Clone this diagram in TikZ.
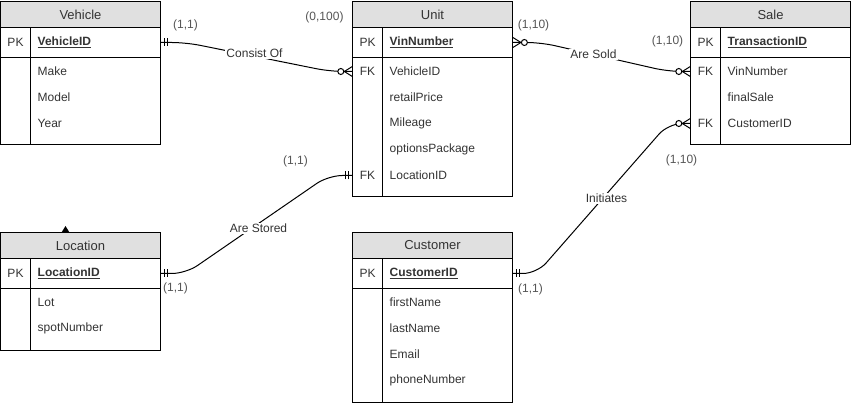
\documentclass[tikz,border=0pt]{standalone}
\usepackage{fontspec}
\setmainfont{Liberation Sans}
\usetikzlibrary{positioning}
\definecolor{hdrgray}{HTML}{E0E0E0}
\definecolor{txtgray}{HTML}{333333}
\definecolor{cardgray}{HTML}{555555}

\begin{document}
\begin{tikzpicture}[x=1pt, y=-1pt,
    box/.style={draw, line width=1pt},
    hdr/.style={draw, line width=1pt, fill=hdrgray, minimum width=160pt, minimum height=26pt, inner sep=0pt, text=txtgray, font=\fontsize{13}{15}\selectfont},
    tag/.style={minimum width=30pt, minimum height=26pt, inner sep=0pt, text=txtgray, font=\fontsize{12}{14}\selectfont},
    field/.style={anchor=west, text width=116pt, inner xsep=7pt, inner ysep=0pt, minimum height=26pt, text=txtgray, font=\fontsize{12}{14}\selectfont},
    card/.style={inner sep=1pt, text=cardgray, font=\fontsize{12}{14}\selectfont},
    rel/.style={line width=1pt, rounded corners=14pt},
    rellabel/.style={fill=white, inner sep=1pt, text=txtgray, font=\fontsize{12}{14}\selectfont},
    pics/mandone/.style={code={\draw[line width=1pt] (4,-4) -- (4,4) (7,-4) -- (7,4);}},
    pics/zeromany/.style={code={\draw[line width=1pt] (0,-5) -- (8,0) -- (0,5); \draw[line width=1pt, fill=white] (11.5,0) circle (3pt);}}
]
    \useasboundingbox (-0.5,-0.5) rectangle (850.5,402.5);

    % Vehicle
    \node[hdr] (veh) at (80,14) {Vehicle};
    \draw[box] (0,27) rectangle (160,144);
    \draw[box] (0,57) -- (160,57) (30,27) -- (30,144);
    \node[tag] (vehPK) at (15,42) {PK};
    \node[field] (vehID) at (30,42) {\underline{\textbf{VehicleID}}};
    \node[field] (vehMake) at (30,71) {Make};
    \node[field] (vehModel) at (30,97) {Model};
    \node[field] (vehYear) at (30,123) {Year};

    % Unit
    \node[hdr] (unit) at (432,14) {Unit};
    \draw[box] (352,27) rectangle (512,196);
    \draw[box] (352,57) -- (512,57) (382,27) -- (382,196);
    \node[tag] (unitPK) at (367,42) {PK};
    \node[field] (unitID) at (382,42) {\underline{\textbf{VinNumber}}};
    \node[tag] (unitFKveh) at (367,71) {FK};
    \node[field] (unitVeh) at (382,71) {VehicleID};
    \node[field] (unitPrice) at (382,97) {retailPrice};
    \node[field] (unitMiles) at (382,123) {Mileage};
    \node[field] (unitOpts) at (382,149) {optionsPackage};
    \node[tag] (unitFKloc) at (367,175) {FK};
    \node[field] (unitLoc) at (382,175) {LocationID};

    % Sale
    \node[hdr] (sale) at (770,14) {Sale};
    \draw[box] (690,27) rectangle (850,144);
    \draw[box] (690,57) -- (850,57) (720,27) -- (720,144);
    \node[tag] (salePK) at (705,42) {PK};
    \node[field] (saleID) at (720,42) {\underline{\textbf{TransactionID}}};
    \node[tag] (saleFKvin) at (705,71) {FK};
    \node[field] (saleVin) at (720,71) {VinNumber};
    \node[field] (saleFinal) at (720,97) {finalSale};
    \node[tag] (saleFKcust) at (705,123) {FK};
    \node[field] (saleCust) at (720,123) {CustomerID};

    % Location
    \node[hdr] (loc) at (80,245) {Location};
    \draw[box] (0,258) rectangle (160,350);
    \draw[box] (0,288) -- (160,288) (30,258) -- (30,350);
    \node[tag] (locPK) at (15,273) {PK};
    \node[field] (locID) at (30,273) {\underline{\textbf{LocationID}}};
    \node[field] (locLot) at (30,302) {Lot};
    \node[field] (locSpot) at (30,328) {spotNumber};
    \fill (61,232) -- (65,225.5) -- (69,232) -- cycle;

    % Customer
    \node[hdr] (cust) at (432,245) {Customer};
    \draw[box] (352,258) rectangle (512,402);
    \draw[box] (352,288) -- (512,288) (382,258) -- (382,402);
    \node[tag] (custPK) at (367,273) {PK};
    \node[field] (custID) at (382,273) {\underline{\textbf{CustomerID}}};
    \node[field] (custFirst) at (382,302) {firstName};
    \node[field] (custLast) at (382,328) {lastName};
    \node[field] (custMail) at (382,354) {Email};
    \node[field] (custPhone) at (382,380) {phoneNumber};

    % Consist Of
    \draw[rel] (vehID.east) -- ++(25,0) -- ([xshift=-22pt]unitFKveh.west) -- (unitFKveh.west);
    \pic at (vehID.east) {mandone};
    \pic[rotate=180] at (unitFKveh.west) {zeromany};
    \node[rellabel] (consist) at (254,53) {Consist Of};

    % Are Sold
    \draw[rel] (unitID.east) -- ++(28,0) -- ([xshift=-22pt]saleFKvin.west) -- (saleFKvin.west);
    \pic at (unitID.east) {zeromany};
    \pic[rotate=180] at (saleFKvin.west) {zeromany};
    \node[rellabel] (sold) at (593,54) {Are Sold};

    % Are Stored
    \draw[rel] (locID.east) -- ++(25,0) -- ([xshift=-24pt]unitFKloc.west) -- (unitFKloc.west);
    \pic at (locID.east) {mandone};
    \pic[rotate=180] at (unitFKloc.west) {mandone};
    \node[rellabel] (stored) at (258,228) {Are Stored};

    % Initiates
    \draw[rel] (custID.east) -- ++(24,0) -- ([xshift=-22pt]saleFKcust.west) -- (saleFKcust.west);
    \pic at (custID.east) {mandone};
    \pic[rotate=180] at (saleFKcust.west) {zeromany};
    \node[rellabel] (initiates) at (606,198) {Initiates};

    % Cardinalities
    \node[card] (cVeh) at (185,25) {(1,1)};
    \node[card] (cUnitVeh) at (324,17) {(0,100)};
    \node[card] (cUnitSale) at (533,25) {(1,10)};
    \node[card] (cSaleUnit) at (667,41) {(1,10)};
    \node[card] (cUnitLoc) at (295,161) {(1,1)};
    \node[card] (cLoc) at (175,288) {(1,1)};
    \node[card] (cSaleCust) at (681,160) {(1,10)};
    \node[card] (cCust) at (530,289) {(1,1)};
\end{tikzpicture}
\end{document}
